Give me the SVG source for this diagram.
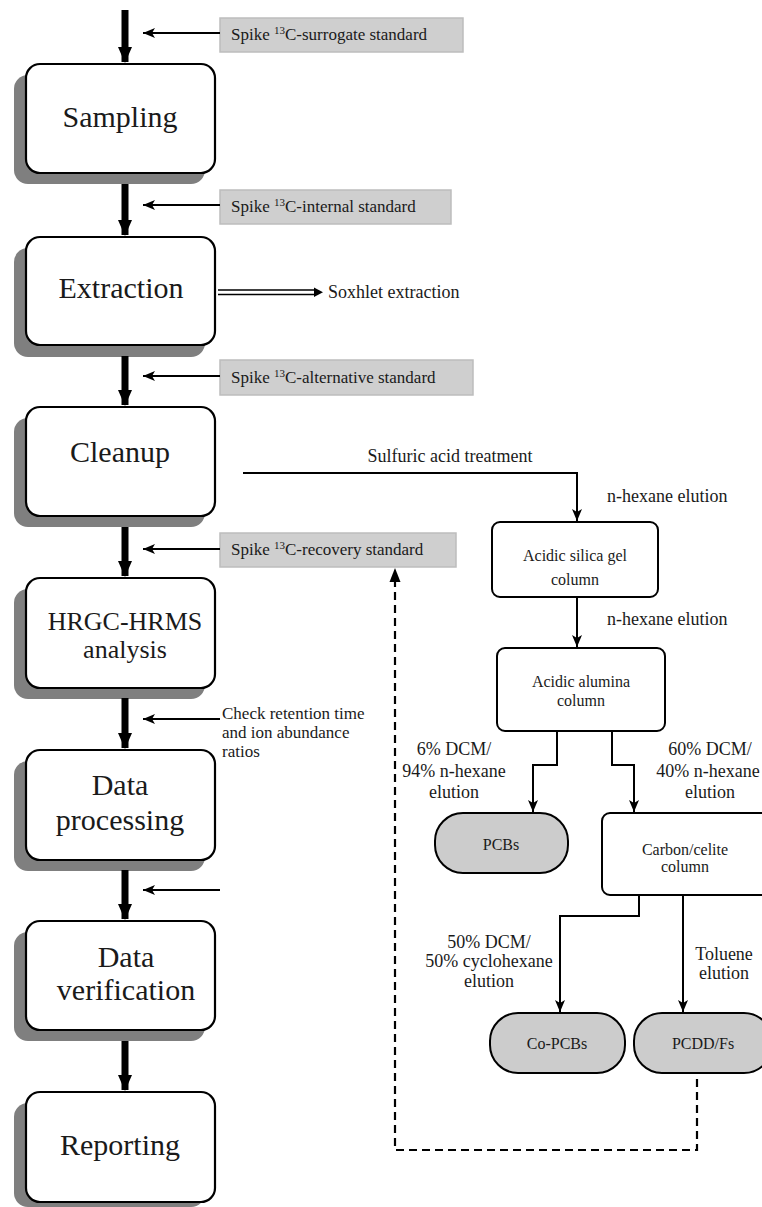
<svg xmlns="http://www.w3.org/2000/svg" width="762" height="1207" viewBox="0 0 762 1207">
<style>
text{font-family:"Liberation Serif","Times New Roman",serif;fill:#1a1a1a}
.big{font-size:30px;text-anchor:middle}
.med{font-size:26px;text-anchor:middle}
.lbl{font-size:18px}
.ctr{text-anchor:middle}
.sm{font-size:16px}
.sp{font-size:17px}
.box{fill:#fff;stroke:#000;stroke-width:2.2}
.shadow{fill:#7f7f7f}
.spike{fill:#cfcfcf;stroke:#bdbdbd;stroke-width:1.5}
.col{fill:#fff;stroke:#000;stroke-width:2}
.pill{fill:#cccccc;stroke:#000;stroke-width:2}
.thick{stroke:#000;stroke-width:7;fill:none}
.thin{stroke:#000;stroke-width:2;fill:none}
.dash{stroke:#000;stroke-width:2.2;fill:none;stroke-dasharray:8 5}
</style>
<defs>
<marker id="thickHead" markerWidth="16" markerHeight="14" refX="15" refY="7" orient="auto" markerUnits="userSpaceOnUse" viewBox="0 0 16 14">
<path d="M0,0 L16,7 L0,14 Z" fill="#000"/>
</marker>
<marker id="ah" markerWidth="12" markerHeight="10" refX="12" refY="5" orient="auto" markerUnits="userSpaceOnUse" viewBox="0 0 12 10">
<path d="M0,0 L12,5 L0,10 L3,5 Z" fill="#000"/>
</marker>
</defs>

<!-- main process boxes -->
<g id="sampling">
<rect class="shadow" x="14" y="75" width="191" height="109" rx="14"/>
<rect class="box" x="26" y="64" width="189" height="109" rx="14"/>
<text class="big" x="120" y="127">Sampling</text>
</g>
<g id="extraction">
<rect class="shadow" x="14" y="248" width="191" height="109" rx="14"/>
<rect class="box" x="26" y="237" width="189" height="108" rx="14"/>
<text class="big" x="121" y="298">Extraction</text>
</g>
<g id="cleanup">
<rect class="shadow" x="14" y="418" width="191" height="109" rx="14"/>
<rect class="box" x="26" y="407" width="189" height="109" rx="14"/>
<text class="big" x="120" y="462">Cleanup</text>
</g>
<g id="hrgc">
<rect class="shadow" x="14" y="589" width="191" height="110" rx="14"/>
<rect class="box" x="26" y="578" width="189" height="110" rx="14"/>
<text class="med" x="125" y="630">HRGC-HRMS</text>
<text class="med" x="125" y="658">analysis</text>
</g>
<g id="data-processing">
<rect class="shadow" x="14" y="761" width="191" height="110" rx="14"/>
<rect class="box" x="26" y="750" width="189" height="110" rx="14"/>
<text class="big" x="120" y="795">Data</text>
<text class="big" x="120" y="830">processing</text>
</g>
<g id="data-verification">
<rect class="shadow" x="14" y="932" width="191" height="109" rx="14"/>
<rect class="box" x="26" y="921" width="189" height="109" rx="14"/>
<text class="big" x="126" y="967">Data</text>
<text class="big" x="126" y="1000">verification</text>
</g>
<g id="reporting">
<rect class="shadow" x="14" y="1103" width="191" height="104" rx="14"/>
<rect class="box" x="26" y="1092" width="189" height="110" rx="14"/>
<text class="big" x="120" y="1155">Reporting</text>
</g>

<!-- spike boxes -->
<g id="spike-surrogate">
<rect class="spike" x="220" y="18" width="243" height="34"/>
<text class="sp" x="231" y="40">Spike <tspan font-size="11" dy="-6">13</tspan><tspan dy="6">C-surrogate standard</tspan></text>
</g>
<g id="spike-internal">
<rect class="spike" x="220" y="190" width="231" height="34"/>
<text class="sp" x="231" y="212">Spike <tspan font-size="11" dy="-6">13</tspan><tspan dy="6">C-internal standard</tspan></text>
</g>
<g id="spike-alternative">
<rect class="spike" x="220" y="360" width="253" height="35"/>
<text class="sp" x="231" y="383">Spike <tspan font-size="11" dy="-6">13</tspan><tspan dy="6">C-alternative standard</tspan></text>
</g>
<g id="spike-recovery">
<rect class="spike" x="220" y="533" width="236" height="34"/>
<text class="sp" x="231" y="555">Spike <tspan font-size="11" dy="-6">13</tspan><tspan dy="6">C-recovery standard</tspan></text>
</g>
<g id="check-label">
<text class="sp" x="222" y="719">Check retention time</text>
<text class="sp" x="222" y="738">and ion abundance</text>
<text class="sp" x="222" y="757">ratios</text>
</g>
<g id="soxhlet">
<text class="lbl" x="328" y="298">Soxhlet extraction</text>
</g>

<!-- cleanup columns -->
<g id="silica">
<rect class="col" x="492" y="522" width="166" height="75" rx="8"/>
<text class="sm ctr" x="575" y="561">Acidic silica gel</text>
<text class="sm ctr" x="575" y="585">column</text>
</g>
<g id="alumina">
<rect class="col" x="497" y="648" width="168" height="83" rx="8"/>
<text class="sm ctr" x="581" y="687">Acidic alumina</text>
<text class="sm ctr" x="581" y="706">column</text>
</g>
<g id="carbon">
<rect class="col" x="602" y="813" width="168" height="82" rx="8"/>
<text class="sm ctr" x="685" y="855">Carbon/celite</text>
<text class="sm ctr" x="685" y="872">column</text>
</g>
<g id="pcbs">
<rect class="pill" x="435" y="813" width="133" height="60" rx="28"/>
<text class="sm ctr" x="501" y="850">PCBs</text>
</g>
<g id="co-pcbs">
<rect class="pill" x="490" y="1013" width="135" height="60" rx="28"/>
<text class="sm ctr" x="557" y="1049">Co-PCBs</text>
</g>
<g id="pcddfs">
<rect class="pill" x="634" y="1013" width="138" height="60" rx="28"/>
<text class="sm ctr" x="703" y="1049">PCDD/Fs</text>
</g>

<!-- connector labels -->
<g id="labels">
<text class="lbl ctr" x="450" y="462" font-size="17">Sulfuric acid treatment</text>
<text class="lbl" x="607" y="502">n-hexane elution</text>
<text class="lbl" x="607" y="625">n-hexane elution</text>
<text class="lbl ctr" x="454" y="755">6% DCM/</text>
<text class="lbl ctr" x="454" y="777">94% n-hexane</text>
<text class="lbl ctr" x="454" y="798">elution</text>
<text class="lbl ctr" x="710" y="755">60% DCM/</text>
<text class="lbl ctr" x="708" y="777">40% n-hexane</text>
<text class="lbl ctr" x="710" y="798">elution</text>
<text class="lbl ctr" x="489" y="948">50% DCM/</text>
<text class="lbl ctr" x="489" y="967">50% cyclohexane</text>
<text class="lbl ctr" x="489" y="987">elution</text>
<text class="lbl ctr" x="724" y="960">Toluene</text>
<text class="lbl ctr" x="724" y="979">elution</text>
</g>

<!-- connectors -->
<g id="connectors">
<line class="thick" x1="125" y1="10" x2="125" y2="62" marker-end="url(#thickHead)"/>
<line class="thick" x1="125" y1="184" x2="125" y2="235" marker-end="url(#thickHead)"/>
<line class="thick" x1="125" y1="356" x2="125" y2="405" marker-end="url(#thickHead)"/>
<line class="thick" x1="125" y1="527" x2="125" y2="576" marker-end="url(#thickHead)"/>
<line class="thick" x1="125" y1="698" x2="125" y2="748" marker-end="url(#thickHead)"/>
<line class="thick" x1="125" y1="870" x2="125" y2="919" marker-end="url(#thickHead)"/>
<line class="thick" x1="125" y1="1041" x2="125" y2="1090" marker-end="url(#thickHead)"/>

<line class="thin" x1="220" y1="33" x2="143" y2="33" marker-end="url(#ah)"/>
<line class="thin" x1="220" y1="205" x2="143" y2="205" marker-end="url(#ah)"/>
<line class="thin" x1="220" y1="376" x2="143" y2="376" marker-end="url(#ah)"/>
<line class="thin" x1="220" y1="549" x2="143" y2="549" marker-end="url(#ah)"/>
<line class="thin" x1="220" y1="719" x2="143" y2="719" marker-end="url(#ah)"/>
<line class="thin" x1="220" y1="890" x2="143" y2="890" marker-end="url(#ah)"/>

<line x1="218" y1="290" x2="316" y2="290" stroke="#000" stroke-width="1.5"/>
<line x1="218" y1="294.5" x2="316" y2="294.5" stroke="#000" stroke-width="1.5"/>
<path d="M314,287.5 L323,292.3 L314,297 Z" fill="#000"/>

<polyline class="thin" points="243,473 577,473 577,521" marker-end="url(#ah)"/>
<line class="thin" x1="577" y1="597" x2="577" y2="647" marker-end="url(#ah)"/>
<polyline class="thin" points="557,731 557,765 533,765 533,812" marker-end="url(#ah)"/>
<polyline class="thin" points="612,731 612,765 634,765 634,812" marker-end="url(#ah)"/>
<polyline class="thin" points="639,895 639,916 560,916 560,1012" marker-end="url(#ah)"/>
<line class="thin" x1="683" y1="895" x2="683" y2="1012" marker-end="url(#ah)"/>

<polyline class="dash" points="697,1079 697,1150 395,1150 395,580"/>
<path d="M389.5,582 L395,568 L400.5,582 Z" fill="#000"/>
</g>
</svg>
